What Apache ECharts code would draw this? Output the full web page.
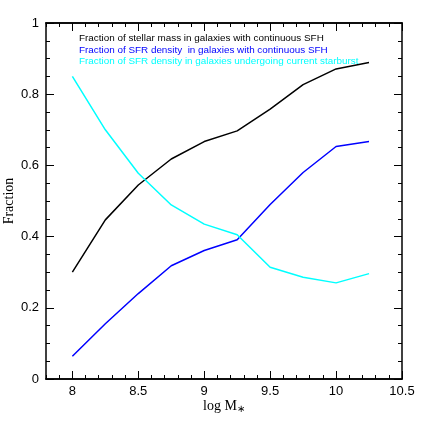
<!DOCTYPE html>
<html><head><meta charset="utf-8">
<script src="https://cdn.jsdelivr.net/npm/echarts@6/dist/echarts.min.js"></script>
<style>html,body{margin:0;padding:0;background:#fff}#c{width:425px;height:425px}</style>
</head><body><div id="c"></div>
<script>
const logM = [8, 8.25, 8.5, 8.75, 9, 9.25, 9.5, 9.75, 10, 10.25];
const stellarMassCont = [0.300, 0.447, 0.545, 0.618, 0.667, 0.697, 0.758, 0.827, 0.871, 0.889];
const sfrCont = [0.064, 0.155, 0.240, 0.318, 0.361, 0.391, 0.490, 0.580, 0.653, 0.667];
const sfrStarburst = [0.850, 0.700, 0.578, 0.489, 0.435, 0.405, 0.314, 0.286, 0.270, 0.296];
const seriesNames = [
  'Fraction of stellar mass in galaxies with continuous SFH',
  'Fraction of SFR density  in galaxies with continuous SFH',
  'Fraction of SFR density in galaxies undergoing current starburst'
];
const seriesColors = ['#000000', '#0000ff', '#00ffff'];
const xMajorTicks = [8, 8.5, 9, 9.5, 10, 10.5];
const xMinorTicks = [7.8, 7.9, 8, 8.1, 8.2, 8.3, 8.4, 8.5, 8.6, 8.7, 8.8, 8.9, 9, 9.1, 9.2, 9.3, 9.4, 9.5, 9.6, 9.7, 9.8, 9.9, 10, 10.1, 10.2, 10.3, 10.4, 10.5];

const chart = echarts.init(document.getElementById('c'));
const lab = {fontFamily: 'Liberation Sans, Helvetica, Arial', fontSize: 13, color: '#000'};
const axLine = {show: true, lineStyle: {color: '#000', width: 1.5}};
function xAx(pos, ticks, len, showLabel, name) {
  return {
    type: 'value', position: pos, min: 7.8, max: 10.5,
    axisLine: axLine,
    axisTick: {show: true, inside: true, length: len, customValues: ticks, lineStyle: {color: '#000', width: 1}},
    axisLabel: {show: showLabel, customValues: xMajorTicks, margin: 6, ...lab, formatter: v => String(v)},
    splitLine: {show: false},
    name: name || '', nameLocation: 'middle', nameGap: 19, nameMoveOverlap: false,
    nameTextStyle: {fontFamily: 'Liberation Serif, Times New Roman', fontSize: 14, color: '#000',
      rich: {sub: {fontFamily: 'Liberation Serif', fontSize: 10, verticalAlign: 'bottom', padding: [6, 0, 0, 0]}}}
  };
}
function yAx(pos, showLabel, name) {
  return {
    type: 'value', position: pos, min: 0, max: 1, interval: 0.2,
    axisLine: axLine,
    axisTick: {show: true, inside: true, length: 8, lineStyle: {color: '#000', width: 1}},
    minorTick: {show: true, splitNumber: 4, length: 4, lineStyle: {color: '#000', width: 1}},
    axisLabel: {show: showLabel, margin: 7, ...lab, formatter: v => String(+v.toFixed(1))},
    splitLine: {show: false},
    name: name || '', nameLocation: 'middle', nameGap: 30, nameMoveOverlap: false,
    nameTextStyle: {fontFamily: 'Liberation Serif, Times New Roman', fontSize: 14, color: '#000'}
  };
}
const ySets = [stellarMassCont, sfrCont, sfrStarburst];
chart.setOption({
  animation: false,
  grid: {left: 46, right: 23, top: 23, bottom: 46, outerBoundsMode: 'none', containLabel: false},
  legend: {
    orient: 'vertical', left: 69, top: 28, itemGap: 0, itemWidth: 0, itemHeight: 0,
    icon: 'rect', selectedMode: false,
    textStyle: {fontFamily: 'Liberation Sans, Helvetica, Arial', fontSize: 9.9, lineHeight: 11.5},
    data: seriesNames.map((n, i) => ({name: n, textStyle: {color: seriesColors[i]}}))
  },
  xAxis: [
    xAx('bottom', xMajorTicks, 8, true, 'log M{sub|∗}'),
    xAx('bottom', xMinorTicks, 4, false),
    xAx('top', xMajorTicks, 8, false),
    xAx('top', xMinorTicks, 4, false)
  ],
  yAxis: [
    yAx('left', true, 'Fraction'),
    yAx('right', false)
  ],
  series: ySets.map((ys, i) => ({
    name: seriesNames[i], type: 'line', xAxisIndex: 0, yAxisIndex: 0,
    showSymbol: false, symbol: 'none',
    lineStyle: {color: seriesColors[i], width: 1.5},
    itemStyle: {color: seriesColors[i]},
    data: logM.map((x, j) => [x, ys[j]])
  }))
});
</script></body></html>
